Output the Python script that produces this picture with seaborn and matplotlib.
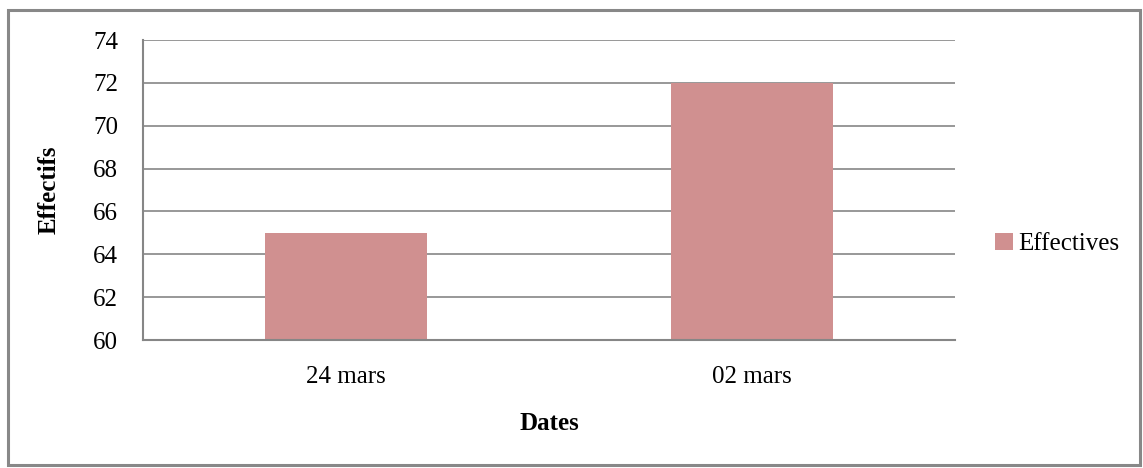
import pandas as pd
import matplotlib.pyplot as plt
import seaborn as sns
from matplotlib.patches import Rectangle

# données
dates = ['24 mars', '02 mars']
effectifs = [65, 72]
serie = 'Effectives'

df = pd.DataFrame({'Dates': dates, 'Effectifs': effectifs, 'serie': serie})

sns.set_style('white')
plt.rcParams['font.family'] = ['Liberation Serif', 'DejaVu Serif']
plt.rcParams['text.color'] = 'black'
plt.rcParams['axes.labelcolor'] = 'black'
plt.rcParams['xtick.labelcolor'] = 'black'
plt.rcParams['ytick.labelcolor'] = 'black'

fig = plt.figure(figsize=(11.43, 4.68), dpi=100)
ax = fig.add_axes([0.1251, 0.2735, 0.8355 - 0.1251, 0.9145 - 0.2735])

sns.barplot(data=df, x='Dates', y='Effectifs', hue='serie', palette=['#D09090'],
            width=0.4, saturation=1, linewidth=0, ax=ax, legend=True)

ax.set_ylim(60, 74)
ax.set_yticks(range(60, 75, 2))
ax.set_xlim(-0.5, 1.5)
ax.set_xticks([-0.5, 0.5, 1.5], minor=True)
ax.tick_params(axis='x', which='major', length=0, labelsize=18, pad=19)
ax.tick_params(axis='x', which='minor', length=6, color='#868686', width=1.3, direction='out')
ax.tick_params(axis='y', length=6, color='#868686', width=1.3, labelsize=18, pad=12)
ax.yaxis.grid(True, color='#868686', linewidth=1.2)
ax.set_axisbelow(True)

for side in ['top', 'right']:
    ax.spines[side].set_visible(False)
for side in ['left', 'bottom']:
    ax.spines[side].set_color('#868686')
    ax.spines[side].set_linewidth(1.5)

ax.set_xlabel('Dates', fontsize=18, fontweight='bold', labelpad=17)
ax.set_ylabel('Effectifs', fontsize=18, fontweight='bold', labelpad=23)

leg = ax.legend(loc='center left', bbox_to_anchor=(1.022, 0.32), frameon=False,
                fontsize=18, handlelength=0.7, handleheight=0.7, handletextpad=0.2)

# cadre autour du graphique
fig.patches.append(Rectangle((0.007, 0.006), 0.99, 0.972, transform=fig.transFigure,
                             fill=False, edgecolor='#888888', linewidth=2.2))

fig.savefig('out.png', dpi=100)
